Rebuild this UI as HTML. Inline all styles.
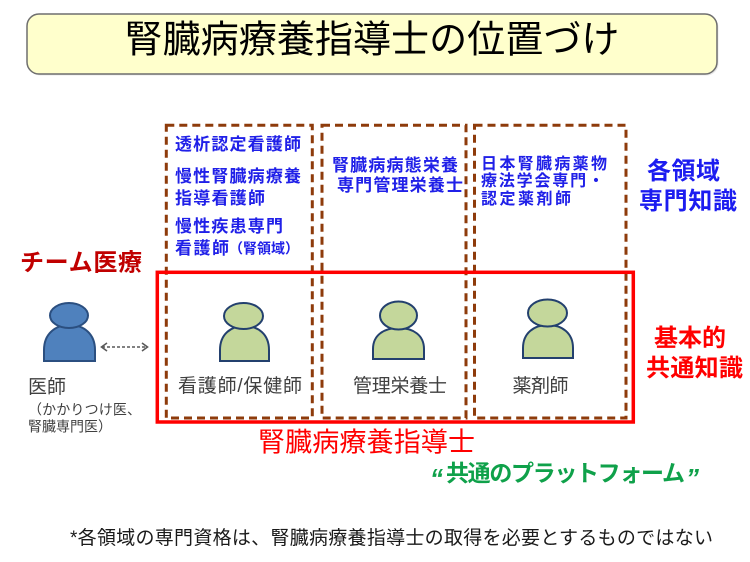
<!DOCTYPE html>
<html>
<head>
<meta charset="utf-8">
<style>
  html,body{margin:0;padding:0;background:#fff;}
  svg{display:block;}
  text{font-family:"Liberation Sans","Noto Sans CJK JP",sans-serif;}
</style>
</head>
<body>
<svg width="750" height="562" viewBox="0 0 750 562" xmlns="http://www.w3.org/2000/svg">
  <rect x="0" y="0" width="750" height="562" fill="#ffffff"/>

  <!-- Title box -->
  <rect x="28.5" y="15.5" width="690" height="60" rx="12" ry="12" fill="#d9d9d9" opacity="0.6"/>
  <rect x="27" y="14" width="690" height="60" rx="12" ry="12" fill="#ffffcc" stroke="#6f6f6f" stroke-width="1.5"/>
  <text x="372" y="52.5" font-size="38" text-anchor="middle" fill="#000" textLength="495" lengthAdjust="spacingAndGlyphs">腎臓病療養指導士の位置づけ</text>

  <!-- Dashed boxes -->
  <g fill="none" stroke="#8e3b0b" stroke-width="3" stroke-dasharray="8 5">
    <rect x="166.3" y="125.3" width="146" height="292.7"/>
    <rect x="322" y="125.3" width="144" height="292.7"/>
    <rect x="474.5" y="125.3" width="151.5" height="292.7"/>
  </g>

  <!-- Red box -->
  <rect x="157.3" y="272.3" width="476" height="149.7" fill="none" stroke="#ff0000" stroke-width="3.5"/>

  <!-- Box1 text -->
  <g fill="#2020e8" font-size="17" font-weight="bold">
    <text x="175" y="150" textLength="126" lengthAdjust="spacing">透析認定看護師</text>
    <text x="175" y="182" textLength="126" lengthAdjust="spacing">慢性腎臓病療養</text>
    <text x="175" y="204" textLength="90" lengthAdjust="spacing">指導看護師</text>
    <text x="175" y="232" textLength="108" lengthAdjust="spacing">慢性疾患専門</text>
    <text x="175" y="254" textLength="54" lengthAdjust="spacing">看護師</text>
    <text x="229" y="253.5" font-size="14" textLength="70" lengthAdjust="spacing">（腎領域）</text>
  </g>

  <!-- Box2 text -->
  <g fill="#2020e8" font-size="17" font-weight="bold">
    <text x="332" y="171" textLength="126" lengthAdjust="spacing">腎臓病病態栄養</text>
    <text x="337" y="191" textLength="126" lengthAdjust="spacing">専門管理栄養士</text>
  </g>

  <!-- Box3 text -->
  <g fill="#2020e8" font-size="16" font-weight="bold">
    <text x="481" y="169" textLength="126" lengthAdjust="spacing">日本腎臓病薬物</text>
    <text x="481" y="186" textLength="123" lengthAdjust="spacing">療法学会専門・</text>
    <text x="481" y="204" textLength="90" lengthAdjust="spacing">認定薬剤師</text>
  </g>

  <!-- Right side labels -->
  <g font-size="24" font-weight="bold">
    <text x="647" y="179" fill="#1c1cf0" textLength="73" lengthAdjust="spacing">各領域</text>
    <text x="639" y="209" fill="#1c1cf0" textLength="98" lengthAdjust="spacing">専門知識</text>
    <text x="654" y="346" fill="#ff0000" textLength="72" lengthAdjust="spacing">基本的</text>
    <text x="646" y="376" fill="#ff0000" textLength="97" lengthAdjust="spacing">共通知識</text>
    <text x="20" y="270.5" fill="#c00000" textLength="122" lengthAdjust="spacing">チーム医療</text>
  </g>

  <!-- Blue person -->
  <g stroke="#2b4f80" stroke-width="2">
    <path d="M44,361 L44,350 C44,334 55,325 69.5,325 C84,325 95,334 95,350 L95,361 Z" fill="#4f81bd"/>
    <ellipse cx="69" cy="315.5" rx="19" ry="12.5" fill="#4f81bd"/>
  </g>

  <!-- Green persons -->
  <g stroke="#23406e" stroke-width="2" fill="#c4d79b">
    <path d="M220,361 L220,350 C220,334 231,326 244.5,326 C258,326 269,334 269,350 L269,361 Z"/>
    <ellipse cx="243.5" cy="316" rx="19.5" ry="13"/>
    <path d="M373,359 L373,349 C373,335 384,328 398.5,328 C413,328 424,335 424,349 L424,359 Z"/>
    <ellipse cx="398.5" cy="315.5" rx="18.5" ry="14"/>
    <path d="M523,358 L523,348 C523,333 534,325 548,325 C562,325 573,333 573,348 L573,358 Z"/>
    <ellipse cx="547.5" cy="313" rx="19.5" ry="13.5"/>
  </g>

  <!-- Dashed double arrow -->
  <g stroke="#595959" stroke-width="1.6" fill="none">
    <line x1="102" y1="347" x2="147" y2="347" stroke-dasharray="3 2"/>
    <polyline points="107,343 101.5,347 107,351"/>
    <polyline points="142,343 147.5,347 142,351"/>
  </g>

  <!-- Person labels -->
  <g fill="#404040" font-size="19">
    <text x="240" y="392" text-anchor="middle" textLength="124" lengthAdjust="spacing">看護師/保健師</text>
    <text x="400" y="392" text-anchor="middle" textLength="94" lengthAdjust="spacing">管理栄養士</text>
    <text x="540.5" y="392" text-anchor="middle" textLength="56" lengthAdjust="spacing">薬剤師</text>
    <text x="28" y="393" textLength="38" lengthAdjust="spacing">医師</text>
    <text x="28" y="414.5" font-size="14" textLength="113" lengthAdjust="spacing">（かかりつけ医、</text>
    <text x="28" y="431.5" font-size="14" textLength="84" lengthAdjust="spacing">腎臓専門医）</text>
  </g>

  <!-- Bottom red title -->
  <text x="258" y="451.5" font-size="27" fill="#ff0000" textLength="217" lengthAdjust="spacing">腎臓病療養指導士</text>

  <!-- Green platform -->
  <g fill="#0fa14a" font-weight="bold">
    <text x="430" y="487" font-size="26" font-style="italic" font-family="Liberation Sans, sans-serif">“</text>
    <text x="446" y="481" font-size="23" textLength="239" lengthAdjust="spacing">共通のプラットフォーム</text>
    <text x="686" y="487" font-size="26" font-style="italic" font-family="Liberation Sans, sans-serif">”</text>
  </g>

  <!-- Footer -->
  <text x="70" y="544" font-size="19" fill="#1a1a1a" textLength="643" lengthAdjust="spacing">*各領域の専門資格は、腎臓病療養指導士の取得を必要とするものではない</text>
</svg>
</body>
</html>
